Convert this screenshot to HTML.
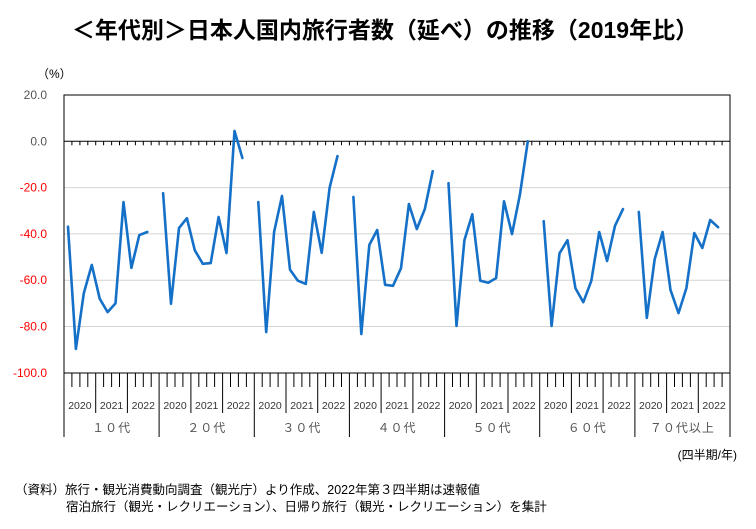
<!DOCTYPE html>
<html><head><meta charset="utf-8"><style>
html,body{margin:0;padding:0;background:#fff;}
svg{display:block;font-family:"Liberation Sans","Noto Sans CJK JP",sans-serif;}
</style></head><body>
<svg id="c" width="756" height="529" viewBox="0 0 756 529" xmlns="http://www.w3.org/2000/svg">
<text x="385" y="38" text-anchor="middle" font-size="23" font-weight="bold" fill="#000">＜年代別＞日本人国内旅行者数（延べ）の推移（2019年比）</text>
<text x="37" y="78" font-size="12" fill="#000">（%）</text>
<g id="g"></g>
<text x="737" y="459" text-anchor="end" font-size="12" fill="#000">(四半期/年)</text>
<text x="15" y="494" font-size="12.5" fill="#000">（資料）旅行・観光消費動向調査（観光庁）より作成、2022年第３四半期は速報値</text>
<text x="66" y="511" font-size="12.5" fill="#000">宿泊旅行（観光・レクリエーション）、日帰り旅行（観光・レクリエーション）を集計</text>
</svg>
<script>
var L=64,R=730,T=95,B=373,Z=141.3,k=2.315,s=(R-L)/84;
function Y(v){return Z-v*k;}
var h='';
[-20,-40,-60,-80].forEach(function(v){h+='<line x1="'+L+'" x2="'+R+'" y1="'+Y(v)+'" y2="'+Y(v)+'" stroke="#d4d4d4" stroke-width="1"/>';});
for(var v=20;v>=-100;v-=20){var c=v<0?'#ff0000':'#555';h+='<text x="47" y="'+(Y(v)+4)+'" text-anchor="end" font-size="12" fill="'+c+'">'+v.toFixed(1)+'</text>';}
h+='<rect x="'+L+'" y="'+T+'" width="'+(R-L)+'" height="'+(B-T)+'" fill="none" stroke="#000" stroke-width="1"/>';
h+='<line x1="'+L+'" x2="'+R+'" y1="'+Z+'" y2="'+Z+'" stroke="#000" stroke-width="1"/>';
for(var i=0;i<=84;i++){var x=(L+i*s).toFixed(1);
 h+='<line x1="'+x+'" x2="'+x+'" y1="'+Z+'" y2="'+(Z+4)+'" stroke="#000"/>';
 var e=387; if(i%4==0)e=413; if(i%12==0)e=437;
 h+='<line x1="'+x+'" x2="'+x+'" y1="'+B+'" y2="'+e+'" stroke="#000"/>';}
var yrs=['2020','2021','2022'],grp=['１０代','２０代','３０代','４０代','５０代','６０代','７０代以上'];
for(var g=0;g<7;g++){for(var y=0;y<3;y++){var cx=L+(g*12+y*4+2)*s;h+='<text x="'+cx.toFixed(1)+'" y="409" text-anchor="middle" font-size="10.5" fill="#333">'+yrs[y]+'</text>';}
 h+='<text x="'+(L+(g*12+6)*s).toFixed(1)+'" y="432" text-anchor="middle" font-size="12" fill="#555" letter-spacing="1">'+grp[g]+'</text>';}
var D=[
[-36.9,-89.7,-65.6,-53.4,-68,-73.8,-70,-26.2,-54.7,-40.5,-39.2],
[-22.4,-70.2,-37.5,-33.2,-47.1,-52.9,-52.6,-32.7,-48.3,4.5,-7.2],
[-26.2,-82.4,-39.2,-23.6,-55.4,-60.2,-61.6,-30.5,-48.2,-20.1,-6.4],
[-24,-83.3,-44.8,-38.3,-62,-62.4,-54.8,-27.1,-37.9,-29.3,-12.9],
[-18.1,-79.8,-42.7,-31.5,-60.2,-61.1,-59.1,-25.9,-40.1,-23.1,0],
[-34.5,-79.8,-48.4,-42.7,-63.4,-69.5,-60.3,-39.2,-51.7,-36.5,-29.3],
[-30.5,-76.3,-50.9,-39.2,-64.2,-74.2,-63.4,-39.6,-46.1,-34,-37.1]];
for(var g=0;g<7;g++){var p=D[g].map(function(v,i){return (L+(g*12+i+0.5)*s).toFixed(1)+','+Y(v).toFixed(1);}).join(' ');
 h+='<polyline points="'+p+'" fill="none" stroke="#1570c8" stroke-width="2.6" stroke-linejoin="round" stroke-linecap="round"/>';}
document.getElementById('g').innerHTML=h;
</script>
</body></html>
